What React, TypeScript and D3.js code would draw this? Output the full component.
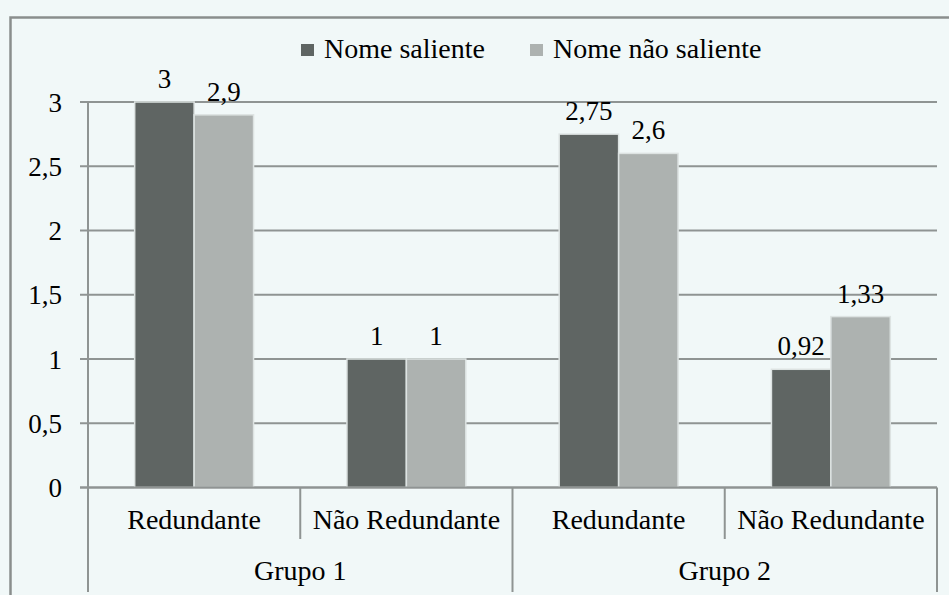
import React, { useEffect, useRef } from "react";
import * as d3 from "d3";

const groups = ["Grupo 1", "Grupo 2"];
const categories = ["Redundante", "Não Redundante", "Redundante", "Não Redundante"];
const categoryGroup = [0, 0, 1, 1];
const series = ["Nome saliente", "Nome não saliente"];
const salienteValues = [3, 1, 2.75, 0.92];
const naoSalienteValues = [2.9, 1, 2.6, 1.33];
const yTicks = [0, 0.5, 1, 1.5, 2, 2.5, 3];

const W = 949;
const H = 595;
const COLORS = ["#5f6563", "#adb2b0"];
const BG = "#f1f8f8";
const GRID = "#8f9493";
const FONT = "Liberation Serif";

export default function App() {
  const ref = useRef<SVGSVGElement>(null);

  useEffect(() => {
    const svg = d3.select(ref.current);
    svg.selectAll("*").remove();
    const seriesVals = [salienteValues, naoSalienteValues];
    const plotLeft = 88;
    const plotRight = 937;
    const bottom = 592;
    const y = d3.scaleLinear().domain([0, 3]).range([487.5, 102]);
    const x0 = d3.scaleBand<number>().domain(d3.range(categories.length)).range([plotLeft, plotRight]).padding(0);
    const band = x0.bandwidth();
    const x1 = d3.scaleBand<number>().domain(d3.range(series.length)).range([band * 0.22, band * 0.78]).padding(0);
    const fmt = (v: number) => String(v).replace(".", ",");
    const yZero = y(0);

    svg.append("rect").attr("width", W).attr("height", H).attr("fill", BG);
    svg
      .append("rect")
      .attr("x", 10.5)
      .attr("y", 17.5)
      .attr("width", W + 20)
      .attr("height", H + 20)
      .attr("fill", "none")
      .attr("stroke", "#8a8e8d")
      .attr("stroke-width", 2.5);

    const text = (x: number, yy: number, s: string, size: number, anchor = "start") =>
      svg
        .append("text")
        .attr("x", x)
        .attr("y", yy)
        .attr("font-family", FONT)
        .attr("font-size", size)
        .attr("text-anchor", anchor)
        .text(s);

    series.forEach((s, i) => {
      const lx = i === 0 ? 301 : 530;
      svg.append("rect").attr("x", lx).attr("y", 44).attr("width", 13).attr("height", 12).attr("fill", COLORS[i]);
      text(lx + 23, 57.5, s, 28);
    });

    yTicks.forEach((t) => {
      svg
        .append("line")
        .attr("x1", 80)
        .attr("x2", plotRight)
        .attr("y1", y(t))
        .attr("y2", y(t))
        .attr("stroke", GRID)
        .attr("stroke-width", 2);
      text(62, y(t) + 9.5, fmt(t), 27, "end");
    });

    categories.forEach((_, ci) => {
      series.forEach((_, si) => {
        const v = seriesVals[si][ci];
        const bx = x0(ci)! + x1(si)!;
        const bw = x1.bandwidth();
        svg
          .append("rect")
          .attr("x", bx)
          .attr("y", y(v))
          .attr("width", bw)
          .attr("height", yZero - y(v))
          .attr("fill", COLORS[si])
          .attr("stroke", "#dde3e2")
          .attr("stroke-width", 1.5);
        text(bx + bw / 2, y(v) - 14, fmt(v), 27, "middle");
      });
    });

    const line = (xa: number, xb: number, ya: number, yb: number) =>
      svg
        .append("line")
        .attr("x1", xa)
        .attr("x2", xb)
        .attr("y1", ya)
        .attr("y2", yb)
        .attr("stroke", GRID)
        .attr("stroke-width", 2);

    line(80, plotRight, yZero, yZero);
    line(plotLeft, plotLeft, y(3), bottom);
    line(plotRight, plotRight, yZero, bottom);
    categories.forEach((_, ci) => {
      if (ci > 0) {
        const gEdge = categoryGroup[ci] !== categoryGroup[ci - 1];
        line(x0(ci)!, x0(ci)!, yZero, gEdge ? bottom : 539);
      }
      text(x0(ci)! + band / 2, 529, categories[ci], 28, "middle");
    });

    groups.forEach((g, gi) => {
      const idx = categoryGroup.map((gg, i) => (gg === gi ? i : -1)).filter((i) => i >= 0);
      const start = x0(idx[0])!;
      const end = x0(idx[idx.length - 1])! + band;
      text((start + end) / 2, 580, g, 28, "middle");
    });
  }, []);

  return <svg ref={ref} width={W} height={H} style={{ position: "absolute", left: 0, top: 0, display: "block" }} />;
}
